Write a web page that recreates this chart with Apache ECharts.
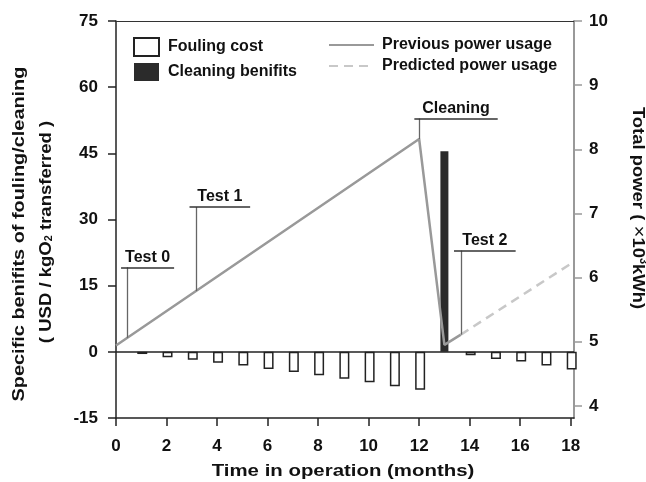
<!DOCTYPE html>
<html>
<head>
<meta charset="utf-8">
<script src="https://cdn.jsdelivr.net/npm/echarts@6/dist/echarts.min.js"></script>
<style>
html,body{margin:0;padding:0;background:#fff;}
#chart{width:646px;height:482px;}
</style>
</head>
<body>
<div id="chart"></div>
<script>
// ---- data ----
const xTicks = [0, 2, 4, 6, 8, 10, 12, 14, 16, 18];
const rightTicks = [4, 5, 6, 7, 8, 9, 10];
const foulingMonths = [1, 2, 3, 4, 5, 6, 7, 8, 9, 10, 11, 12, 14, 15, 16, 17, 18];
const foulingCost = [-0.5, -1.2, -1.8, -2.5, -3.1, -3.9, -4.6, -5.3, -6.1, -6.9, -7.8, -8.6, -0.8, -1.6, -2.2, -3.1, -4.0];
const cleaningMonths = [13];
const cleaningBenefit = [45.5];
const prevPowerX = [0, 12, 13, 13.65];
const prevPowerY = [4.94, 8.16, 4.95, 5.11];
const predPowerX = [13.65, 18.1];
const predPowerY = [5.11, 6.24];
// annotations: label, month, value on line, top value, horizontal start, horizontal end
const annNames = ['Test 0', 'Test 1', 'Cleaning', 'Test 2'];
const annX = [0.43, 3.18, 12, 13.65];
const annYLine = [5.06, 5.79, 8.16, 5.11];
const annYTop = [6.16, 7.10, 8.48, 6.42];
const annX1 = [0.2, 2.91, 11.81, 13.38];
const annX2 = [2.3, 5.31, 15.11, 15.82];

const FONT = "'Liberation Sans', Arial, sans-serif";
const chart = echarts.init(document.getElementById('chart'));

const annLines = [];
annNames.forEach((n, i) => {
  annLines.push([
    {coord: [annX[i], annYLine[i]], lineStyle: {color: '#666', width: 1.3, type: 'solid'}, label: {show: false}},
    {coord: [annX[i], annYTop[i]]}
  ]);
  annLines.push([
    {coord: [annX1[i], annYTop[i]], name: n, lineStyle: {color: '#333', width: 1.5, type: 'solid'},
      label: {show: true, position: 'middle', formatter: '{b}', color: '#111', fontSize: 16, fontWeight: 'bold', fontFamily: FONT, distance: 2}},
    {coord: [annX2[i], annYTop[i]]}
  ]);
});

const axisLabelStyle = {color: '#111', fontSize: 17, fontWeight: 'bold', fontFamily: FONT};

chart.setOption({
  animation: false,
  backgroundColor: '#fff',
  grid: {left: 116, right: 72, top: 21, bottom: 64, containLabel: false},
  legend: [
    {
      data: ['Fouling cost', 'Cleaning benifits'],
      left: 133, top: 37, orient: 'vertical', padding: 0, icon: 'rect',
      itemWidth: 25, itemHeight: 18, itemGap: 6,
      textStyle: {color: '#111', fontSize: 16, fontWeight: 'bold', fontFamily: FONT, padding: [0, 0, 0, 4]}
    },
    {
      data: ['Previous power usage', 'Predicted power usage'],
      left: 328, top: 37, orient: 'vertical', padding: 0,
      itemWidth: 45, itemHeight: 18, itemGap: 5,
      itemStyle: {opacity: 0},
      textStyle: {color: '#111', fontSize: 16, fontWeight: 'bold', fontFamily: FONT, padding: [0, 0, 0, 3]}
    }
  ],
  xAxis: [
    {
      type: 'value', min: 0, max: 18.13, position: 'bottom',
      axisLine: {show: true, onZero: false, lineStyle: {color: '#222', width: 1.5}},
      axisTick: {show: true, customValues: xTicks, length: 8, lineStyle: {color: '#222', width: 1.5}},
      axisLabel: Object.assign({customValues: xTicks, margin: 20}, axisLabelStyle),
      splitLine: {show: false}
    },
    {
      type: 'value', min: 0, max: 18.13, position: 'top',
      axisLine: {show: true, onZero: false, lineStyle: {color: '#333', width: 1.2}},
      axisTick: {show: false}, axisLabel: {show: false}, splitLine: {show: false}
    }
  ],
  yAxis: [
    {
      type: 'value', min: -15, max: 75, interval: 15, position: 'left',
      axisLine: {show: true, onZero: false, lineStyle: {color: '#222', width: 1.5}},
      axisTick: {show: true, length: 8, lineStyle: {color: '#222', width: 1.5}},
      axisLabel: Object.assign({margin: 18}, axisLabelStyle),
      splitLine: {show: false}
    },
    {
      type: 'value', min: 3.81, max: 10, position: 'right',
      axisLine: {show: true, onZero: false, lineStyle: {color: '#999', width: 2}},
      axisTick: {show: true, customValues: rightTicks, length: 8, lineStyle: {color: '#999', width: 1.5}},
      axisLabel: Object.assign({customValues: rightTicks, margin: 15}, axisLabelStyle),
      splitLine: {show: false}
    }
  ],
  series: [
    {
      name: 'Fouling cost', type: 'bar', xAxisIndex: 0, yAxisIndex: 0,
      barWidth: 10, barGap: '-100%',
      itemStyle: {color: '#fff', borderColor: '#222', borderWidth: 1.5},
      data: foulingMonths.map((m, i) => [m, foulingCost[i]]),
      markLine: {
        silent: true, symbol: 'none', label: {show: false},
        lineStyle: {color: '#222', width: 1.5, type: 'solid'},
        data: [{yAxis: 0}]
      },
      z: 2
    },
    {
      name: 'Cleaning benifits', type: 'bar', xAxisIndex: 0, yAxisIndex: 0,
      barWidth: 8, barGap: '-100%',
      itemStyle: {color: '#2b2b2b'},
      data: cleaningMonths.map((m, i) => [m, cleaningBenefit[i]]),
      z: 2
    },
    {
      name: 'Previous power usage', type: 'line', xAxisIndex: 0, yAxisIndex: 1,
      symbol: 'none', lineStyle: {color: '#999', width: 2.5}, itemStyle: {color: '#999'},
      data: prevPowerX.map((x, i) => [x, prevPowerY[i]]),
      markLine: {silent: true, symbol: 'none', animation: false, data: annLines},
      z: 4
    },
    {
      name: 'Predicted power usage', type: 'line', xAxisIndex: 0, yAxisIndex: 1,
      symbol: 'none', lineStyle: {color: '#c8c8c8', width: 2.5, type: [9, 6]}, itemStyle: {color: '#c8c8c8'},
      data: predPowerX.map((x, i) => [x, predPowerY[i]]),
      z: 4
    }
  ],
  graphic: [
    {
      type: 'text', x: 343, y: 471, scaleX: 1.2,
      style: {text: 'Time in operation (months)', fill: '#111', font: "bold 17px " + FONT, textAlign: 'center', textVerticalAlign: 'middle'}
    },
    {
      type: 'text', x: 19, y: 234, rotation: Math.PI / 2, scaleX: 1.17,
      style: {text: 'Specific benifits of fouling/cleaning', fill: '#111', font: "bold 17px " + FONT, textAlign: 'center', textVerticalAlign: 'middle'}
    },
    {
      type: 'text', x: 46, y: 232, rotation: Math.PI / 2, scaleX: 1.09,
      style: {
        text: '( USD / kgO{sub|2} transferred )', fill: '#111', font: "bold 17px " + FONT,
        textAlign: 'center', textVerticalAlign: 'middle',
        rich: {sub: {fontSize: 10, fontWeight: 'bold', fontFamily: FONT, verticalAlign: 'bottom', padding: [6, 0, 0, 0]}}
      }
    },
    {
      type: 'text', x: 638, y: 208, rotation: -Math.PI / 2, scaleX: 1.085,
      style: {
        text: 'Total power ( {x|×}10{sup|3}kWh)', fill: '#111', font: "bold 17px " + FONT,
        textAlign: 'center', textVerticalAlign: 'middle',
        rich: {
          x: {fontSize: 19, fontWeight: 'normal', fontFamily: FONT, color: '#555'},
          sup: {fontSize: 10, fontWeight: 'bold', fontFamily: FONT, verticalAlign: 'top', padding: [0, 0, 6, 0]}
        }
      }
    }
  ]
});
</script>
</body>
</html>
